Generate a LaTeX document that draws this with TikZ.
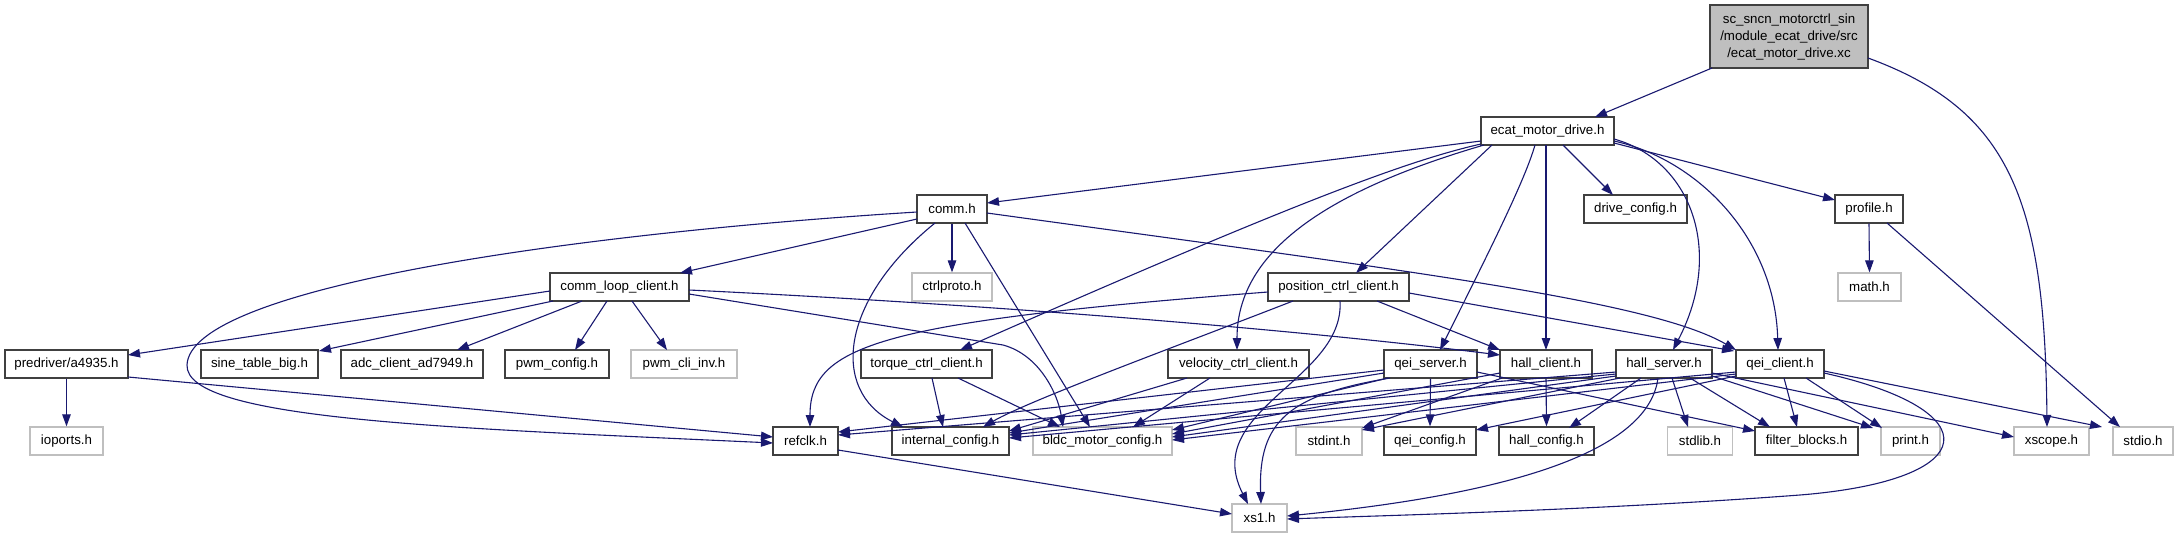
\documentclass[tikz,border=0pt]{standalone}
\usepackage{fontspec}
\setmainfont{Liberation Sans}
\usetikzlibrary{arrows.meta,calc}
\definecolor{eblue}{RGB}{25,25,112}
\definecolor{gborder}{RGB}{191,191,191}
\definecolor{bborder}{RGB}{64,64,64}
\definecolor{rootfill}{RGB}{191,191,191}
\begin{document}
\begin{tikzpicture}[x=1pt,y=-1pt,
  nb/.style={draw=bborder, line width=1.3pt, fill=white, minimum height=28pt, inner sep=0pt, font=\fontsize{13.3}{17}\selectfont},
  ng/.style={nb, draw=gborder},
  ed/.style={draw=eblue, line width=1.1pt, -{Triangle[length=12pt,width=8.5pt]}}]
\fill[white] (0,0) rectangle (2180,539);
\useasboundingbox (0,0) rectangle (2180,539);
% nodes
\node[nb, fill=rootfill, minimum width=158pt, minimum height=63pt, align=center] (root) at (1789,36.5) {sc\_sncn\_motorctrl\_sin\\/module\_ecat\_drive/src\\/ecat\_motor\_drive.xc};
\node[nb, minimum width=133pt] (ecat) at (1547.5,131) {ecat\_motor\_drive.h};
\node[nb, minimum width=70pt] (comm) at (952,209) {comm.h};
\node[nb, minimum width=103pt] (drive) at (1635.5,209) {drive\_config.h};
\node[nb, minimum width=68pt] (profile) at (1869,209) {profile.h};
\node[nb, minimum width=139pt] (cloop) at (619.5,287) {comm\_loop\_client.h};
\node[ng, minimum width=80pt] (ctrlp) at (952,287) {ctrlproto.h};
\node[nb, minimum width=141pt] (pos) at (1338.5,287) {position\_ctrl\_client.h};
\node[ng, minimum width=63pt] (math) at (1869.5,287) {math.h};
\node[nb, minimum width=123pt] (pred) at (66.5,364) {predriver/a4935.h};
\node[nb, minimum width=117pt] (sine) at (259.5,364) {sine\_table\_big.h};
\node[nb, minimum width=142pt] (adc) at (412,364) {adc\_client\_ad7949.h};
\node[nb, minimum width=104pt] (pwmc) at (557,364) {pwm\_config.h};
\node[ng, minimum width=106pt] (pwmi) at (684,364) {pwm\_cli\_inv.h};
\node[nb, minimum width=131pt] (torque) at (926.5,364) {torque\_ctrl\_client.h};
\node[nb, minimum width=141pt] (vel) at (1238.5,364) {velocity\_ctrl\_client.h};
\node[nb, minimum width=93pt] (qeis) at (1430.5,364) {qei\_server.h};
\node[nb, minimum width=92pt] (hallc) at (1546,364) {hall\_client.h};
\node[nb, minimum width=96pt] (halls) at (1664,364) {hall\_server.h};
\node[nb, minimum width=88pt] (qeic) at (1780,364) {qei\_client.h};
\node[ng, minimum width=73pt] (iop) at (66.5,441) {ioports.h};
\node[nb, minimum width=65pt] (refclk) at (805.5,441) {refclk.h};
\node[nb, minimum width=117pt] (intc) at (950.5,441) {internal\_config.h};
\node[ng, minimum width=139pt] (bldc) at (1102.5,441) {bldc\_motor\_config.h};
\node[ng, minimum width=66pt] (stdint) at (1329,441) {stdint.h};
\node[nb, minimum width=92pt] (qeicfg) at (1430,441) {qei\_config.h};
\node[nb, minimum width=95pt] (hallcfg) at (1546.5,441) {hall\_config.h};
\node[ng, minimum width=65pt] (stdlib) at (1700,441) {stdlib.h};
\node[nb, minimum width=103pt] (filt) at (1806.5,441) {filter\_blocks.h};
\node[ng, minimum width=59pt] (print) at (1910.5,441) {print.h};
\node[ng, minimum width=75pt] (xscope) at (2051.5,441) {xscope.h};
\node[ng, minimum width=60pt] (stdio) at (2143,441) {stdio.h};
\node[ng, minimum width=55pt] (xs1) at (1259.5,518) {xs1.h};
% edges
\draw[ed] ($(root)+(-77,31.5)$) -- ($(ecat)+(47.5,-14)$);
\draw[ed] ($(root)+(79,21.5)$) .. controls (2010,110) and (2045,200) .. ($(xscope)+(-4.5,-14)$);
\draw[ed] ($(ecat)+(-66.5,10)$) -- ($(comm)+(35,-6)$);
\draw[ed] ($(ecat)+(-66.5,13)$) .. controls (1410,160) and (1300,200) .. ($(torque)+(33.5,-14)$);
\draw[ed] ($(ecat)+(-63.5,14)$) .. controls (1330,190) and (1237,250) .. ($(vel)+(-1.5,-14)$);
\draw[ed] ($(ecat)+(-55.5,14)$) -- ($(pos)+(17.5,-14)$);
\draw[ed] ($(ecat)+(-12.5,14)$) .. controls (1525,180) and (1490,250) .. ($(qeis)+(9.5,-14)$);
\draw[ed] ($(ecat)+(-1.5,14)$) -- ($(hallc)+(0,-14)$);
\draw[ed] ($(ecat)+(15.5,14)$) -- ($(drive)+(-22.5,-14)$);
\draw[ed] ($(ecat)+(66.5,12)$) -- ($(profile)+(-34,-9)$);
\draw[ed] ($(ecat)+(66.5,8)$) .. controls (1690,160) and (1725,250) .. ($(halls)+(9,-14)$);
\draw[ed] ($(ecat)+(66.5,10)$) .. controls (1700,160) and (1775,240) .. ($(qeic)+(-2,-14)$);
\draw[ed] ($(comm)+(-35,10)$) -- ($(cloop)+(60.5,-14)$);
\draw[ed] (comm.south) -- (ctrlp.north);
\draw[ed] ($(comm)+(-35,3)$) .. controls (550,235) and (190,290) .. (187,365) .. controls (185,420) and (450,428) .. ($(refclk)+(-32.5,2)$);
\draw[ed] ($(comm)+(-17,14)$) .. controls (840,300) and (830,390) .. ($(intc)+(-47.5,-14)$);
\draw[ed] ($(comm)+(13,14)$) -- ($(bldc)+(-12.5,-14)$);
\draw[ed] ($(comm)+(35,4)$) .. controls (1400,270) and (1650,300) .. ($(qeic)+(-44,-14)$);
\draw[ed] ($(cloop)+(-69.5,4)$) -- ($(pred)+(61.5,-9)$);
\draw[ed] ($(cloop)+(-66.5,14)$) -- ($(sine)+(59.5,-13)$);
\draw[ed] ($(cloop)+(-37.5,14)$) -- ($(adc)+(45,-14)$);
\draw[ed] ($(cloop)+(-12.5,14)$) -- ($(pwmc)+(18,-14)$);
\draw[ed] ($(cloop)+(12.5,14)$) -- ($(pwmi)+(-17,-14)$);
\draw[ed] ($(cloop)+(69.5,3)$) .. controls (1000,305) and (1300,330) .. ($(hallc)+(-46,-9)$);
\draw[ed] ($(cloop)+(69.5,7)$) -- (1003,345) .. controls (1040,355) and (1058,395) .. ($(bldc)+(-39.5,-14)$);
\draw[ed] (pred.south) -- (iop.north);
\draw[ed] ($(pred)+(61.5,13)$) -- ($(refclk)+(-32.5,-4)$);
\draw[ed] ($(torque)+(5.5,14)$) -- ($(intc)+(-7.5,-14)$);
\draw[ed] ($(torque)+(31.5,14)$) -- ($(bldc)+(-42.5,-14)$);
\draw[ed] ($(vel)+(-51.5,14)$) -- ($(intc)+(58.5,-10)$);
\draw[ed] ($(vel)+(-28.5,14)$) -- ($(bldc)+(30.5,-14)$);
\draw[ed] ($(pos)+(-70.5,5)$) .. controls (880,322) and (810,345) .. ($(refclk)+(4.5,-14)$);
\draw[ed] ($(pos)+(-45.5,14)$) .. controls (1180,345) and (1030,400) .. ($(intc)+(32.5,-14)$);
\draw[ed] ($(pos)+(1.5,14)$) .. controls (1345,380) and (1200,410) .. ($(xs1)+(-11.5,-14)$);
\draw[ed] ($(pos)+(38.5,14)$) -- ($(hallc)+(-46,-14)$);
\draw[ed] ($(pos)+(70.5,6)$) -- ($(qeic)+(-46,-13)$);
\draw[ed] ($(qeis)+(-46.5,6)$) -- ($(refclk)+(32.5,-9)$);
\draw[ed] ($(qeis)+(-46.5,9)$) -- ($(intc)+(58.5,-8)$);
\draw[ed] ($(qeis)+(-42.5,14)$) -- ($(bldc)+(69.5,-11)$);
\draw[ed] (qeis.south) -- (qeicfg.north);
\draw[ed] ($(qeis)+(-40.5,14)$) .. controls (1290,395) and (1258,420) .. ($(xs1)+(1.5,-14)$);
\draw[ed] ($(qeis)+(46.5,8)$) -- ($(filt)+(-51.5,-10)$);
\draw[ed] (hallc.south) -- (hallcfg.north);
\draw[ed] ($(hallc)+(-46,9)$) -- ($(bldc)+(69.5,-7)$);
\draw[ed] ($(hallc)+(-44,14)$) -- ($(stdint)+(33,-13)$);
\draw[ed] ($(halls)+(-48,8)$) -- ($(refclk)+(32.5,-6)$);
\draw[ed] ($(halls)+(-48,10)$) -- ($(intc)+(58.5,-6)$);
\draw[ed] ($(halls)+(-48,12)$) -- ($(bldc)+(69.5,-4)$);
\draw[ed] ($(halls)+(-44,14)$) -- ($(stdint)+(33,-11)$);
\draw[ed] ($(halls)+(-23,14)$) -- ($(hallcfg)+(22.5,-13)$);
\draw[ed] ($(halls)+(-6,14)$) .. controls (1650,440) and (1550,490) .. ($(xs1)+(27.5,-2)$);
\draw[ed] ($(halls)+(8,14)$) -- ($(stdlib)+(-12,-14)$);
\draw[ed] ($(halls)+(26,14)$) -- ($(filt)+(-36.5,-14)$);
\draw[ed] ($(halls)+(48,12)$) -- ($(print)+(-37.5,-13)$);
\draw[ed] ($(halls)+(48,9)$) -- ($(xscope)+(-37.5,-4)$);
\draw[ed] ($(qeic)+(-44,12)$) -- ($(qeicfg)+(46,-11)$);
\draw[ed] ($(qeic)+(-44,10)$) -- ($(bldc)+(69.5,-1)$);
\draw[ed] ($(qeic)+(-44,8)$) -- ($(intc)+(58.5,-3)$);
\draw[ed] ($(qeic)+(4,14)$) -- ($(filt)+(-9.5,-14)$);
\draw[ed] ($(qeic)+(26,14)$) -- ($(print)+(-28.5,-13)$);
\draw[ed] ($(qeic)+(44,7)$) -- ($(stdio)+(-41,-14)$);
\draw[ed] ($(qeic)+(44,9)$) .. controls (1990,410) and (1985,480) .. (1800,495) .. controls (1600,510) and (1400,515) .. ($(xs1)+(27.5,1)$);
\draw[ed] (profile.south) -- (math.north);
\draw[ed] ($(profile)+(18,14)$) -- ($(stdio)+(-23,-14)$);
\draw[ed] ($(refclk)+(32.5,9)$) -- ($(xs1)+(-27.5,-4)$);
\end{tikzpicture}
\end{document}
